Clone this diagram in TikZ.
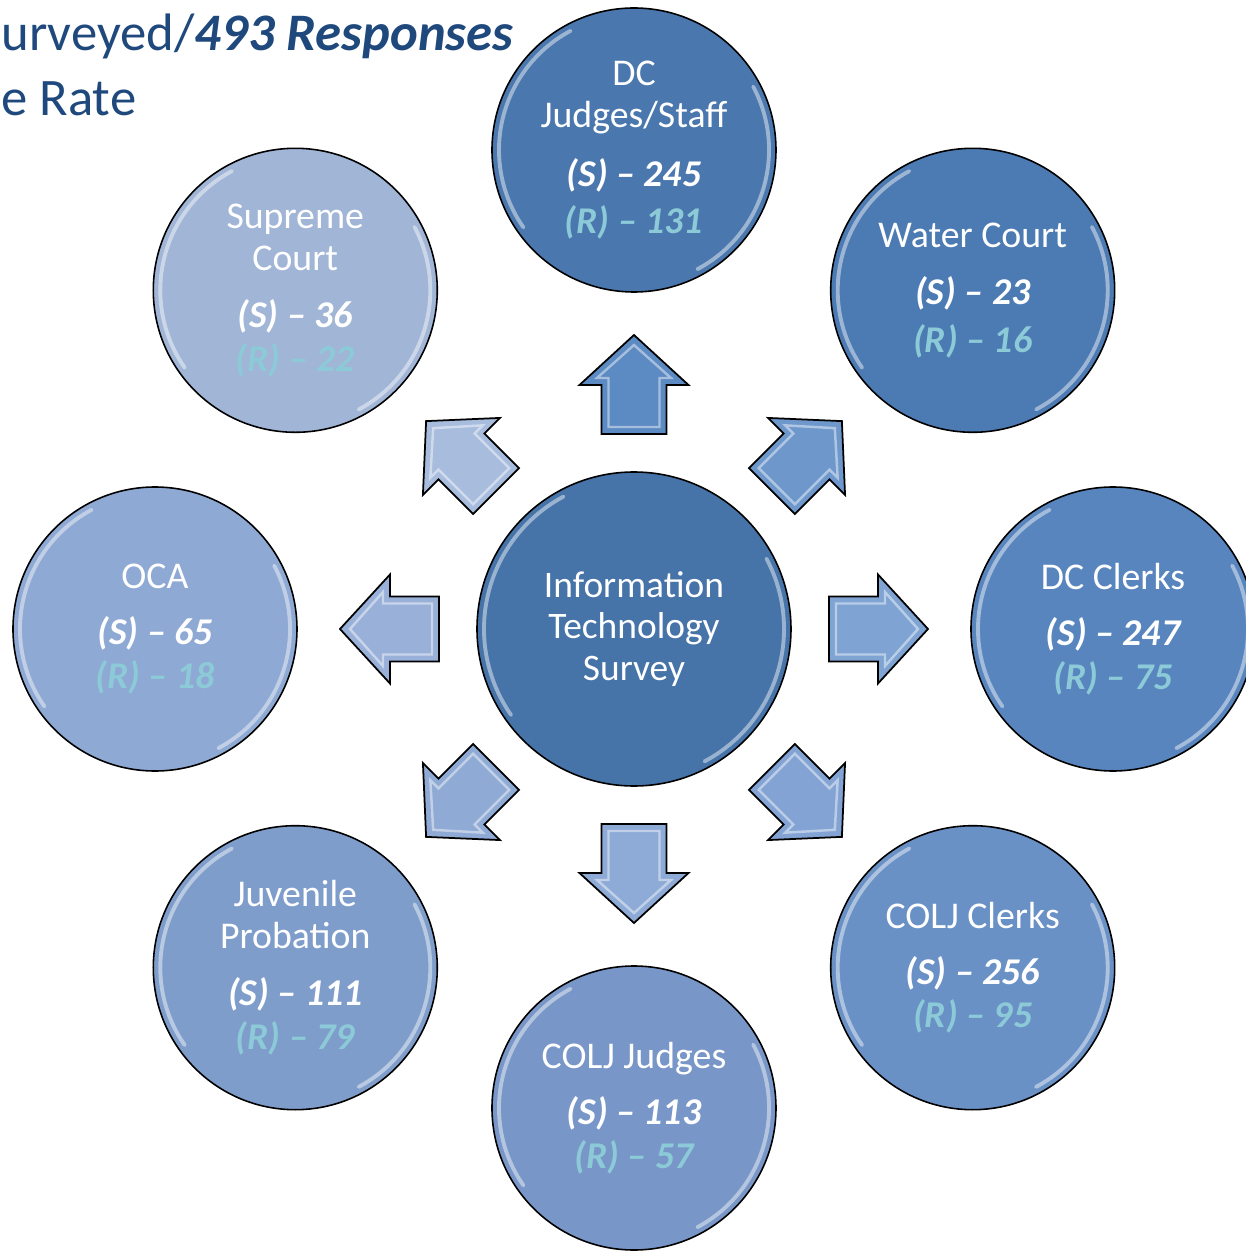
\documentclass[tikz,border=0pt]{standalone}
\usepackage{xcolor}
\usepackage{fontspec}
\setmainfont{Carlito}
\usepackage{tikz}
\usetikzlibrary{calc}
\usetikzlibrary{positioning}

\definecolor{titleblue}{HTML}{1F497D}
\definecolor{rcyan}{HTML}{8CCAD8}
\definecolor{hubblue}{HTML}{4673A8}
\definecolor{djblue}{HTML}{4A77AD}
\definecolor{wcblue}{HTML}{4C7AB2}
\definecolor{dcblue}{HTML}{5885BE}
\definecolor{ccblue}{HTML}{6A91C6}
\definecolor{cjblue}{HTML}{7896C7}
\definecolor{jpblue}{HTML}{7F9DCB}
\definecolor{ocblue}{HTML}{8EA9D3}
\definecolor{scblue}{HTML}{A1B5D6}
\colorlet{glassbase}{hubblue}

\pgfdeclareradialshading[glassbase]{glass}{\pgfpoint{0bp}{0bp}}{color(0bp)=(glassbase); color(44bp)=(glassbase); color(47bp)=(glassbase!78!white); color(49bp)=(glassbase); color(50bp)=(glassbase!85!black)}

\newcommand{\stally}[1]{{\fontsize{21.5}{25}\selectfont\bfseries\itshape #1}}
\newcommand{\rtally}[1]{{\fontsize{21.5}{25}\selectfont\bfseries\itshape\color{rcyan}#1}}

% block arrow pointing away from the hub, #1 = angle, #2 = colour
\newcommand{\bevelarrow}[2]{%
  \definecolor{arrowfill}{HTML}{#2}%
  \begin{scope}[rotate=#1]
    \draw[line width=1pt, fill=arrowfill] (3.9,-0.65) -- (4.88,-0.65) -- (4.88,-1.09) -- (5.88,0) -- (4.88,1.09) -- (4.88,0.65) -- (3.9,0.65) -- cycle;
    \draw[white, opacity=.45, line width=1.4pt] (4.04,-0.51) -- (5.02,-0.51) -- (5.02,-0.74) -- (5.68,0) -- (5.02,0.74) -- (5.02,0.51) -- (4.04,0.51) -- cycle;
  \end{scope}}

\tikzset{
  glare/.style={path picture={
    \draw[white, opacity=.45, line width=2.2pt, line cap=round] ($(path picture bounding box.center)+(118:#1)$) arc[start angle=118, end angle=215, radius=#1];
    \draw[white, opacity=.45, line width=2.2pt, line cap=round] ($(path picture bounding box.center)+(-62:#1)$) arc[start angle=-62, end angle=28, radius=#1];
  }},
  court/.style={circle, draw=black, line width=0.9pt, minimum size=5.68cm, inner sep=0pt, align=center, text=white,
    font=\fontsize{21.5}{23.8}\selectfont, /utils/exec={\colorlet{glassbase}{#1}}, shading=glass, glare=2.7cm},
  hubnode/.style={court=#1, minimum size=6.28cm, glare=3.0cm, font=\fontsize{21.3}{23.6}\selectfont},
  headline/.style={anchor=base west, inner sep=0pt, text=titleblue, font=\fontsize{30}{36}\selectfont},
}

\begin{document}
\begin{tikzpicture}
\useasboundingbox (-12.68,-12.44) rectangle (12.24,12.58);
\clip (-12.68,-12.44) rectangle (12.24,12.58);

% heading, cut by the slide edge
\node [headline] (surveyed) at (-12.66, 11.56) {urveyed/\textbf{\textit{493 Responses}}};
\node [headline] (rate) at (-12.66, 10.26) {e Rate};

% arrows out of the hub
\bevelarrow{90}{5C8AC2}
\bevelarrow{45}{6E98CC}
\bevelarrow{0}{7FA4D3}
\bevelarrow{-45}{82A3D3}
\bevelarrow{-90}{8EAAD6}
\bevelarrow{-135}{8FAAD5}
\bevelarrow{180}{99B1D9}
\bevelarrow{135}{A8BCDD}

\node [hubnode=hubblue] (hub) at (0, 0) {Information\\Technology\\Survey};

\node [court=djblue] (dcjudges) at (90:9.58) {DC\\Judges/Staff\\[10pt]\stally{(S) -- 245}\\[3pt]\rtally{(R) -- 131}};
\node [court=wcblue] (water) at (45:9.58) {Water Court\\[9pt]\stally{(S) -- 23}\\[3pt]\rtally{(R) -- 16}};
\node [court=dcblue] (dcclerks) at (0:9.58) {DC Clerks\\[8pt]\stally{(S) -- 247}\\[1pt]\rtally{(R) -- 75}};
\node [court=ccblue] (coljclerks) at (-45:9.58) {COLJ Clerks\\[8pt]\stally{(S) -- 256}\\[1pt]\rtally{(R) -- 95}};
\node [court=cjblue] (coljjudges) at (-90:9.58) {COLJ Judges\\[8pt]\stally{(S) -- 113}\\[1pt]\rtally{(R) -- 57}};
\node [court=jpblue] (juvenile) at (-135:9.58) {Juvenile\\Probation\\[9pt]\stally{(S) -- 111}\\[1pt]\rtally{(R) -- 79}};
\node [court=ocblue] (oca) at (180:9.58) {OCA\\[8pt]\stally{(S) -- 65}\\[1pt]\rtally{(R) -- 18}};
\node [court=scblue] (supreme) at (135:9.58) {Supreme\\Court\\[9pt]\stally{(S) -- 36}\\[1pt]\rtally{(R) -- 22}};
\end{tikzpicture}
\end{document}
